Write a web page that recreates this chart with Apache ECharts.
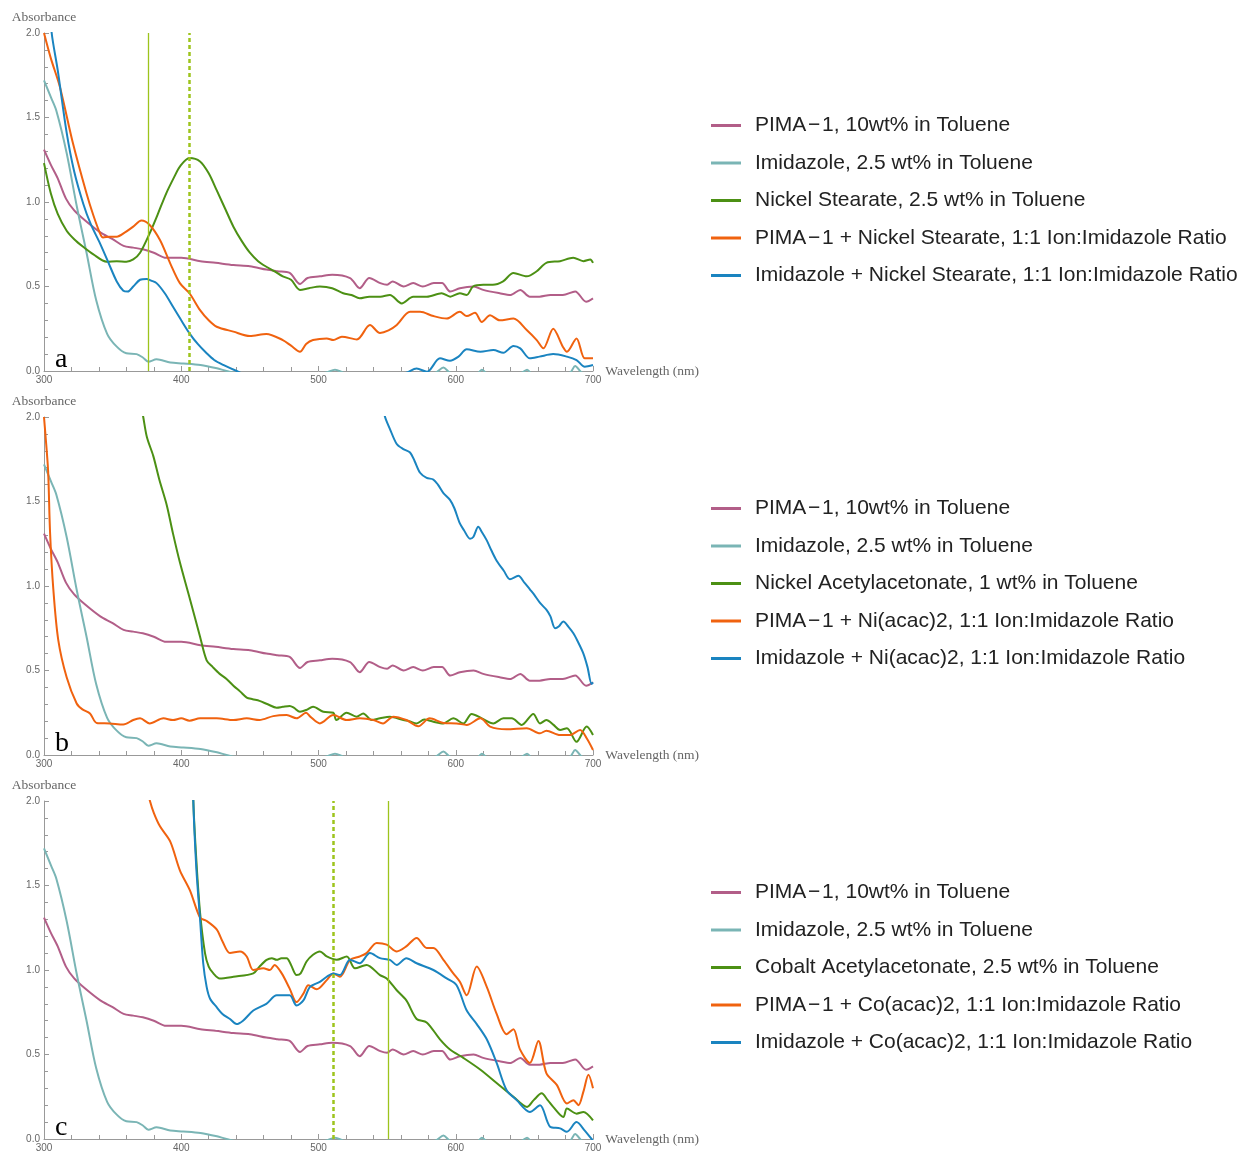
<!DOCTYPE html>
<html>
<head>
<meta charset="utf-8">
<script src="https://cdn.jsdelivr.net/npm/echarts@6/dist/echarts.min.js"></script>
<style>
html,body{margin:0;padding:0;background:#fff;}
#chart{width:1243px;height:1155px;}
</style>
</head>
<body>
<div id="chart"></div>
<script>
// ---- Shared reference spectra ----
const pimaX = [300,305,310,316,322,330,341,350,358,365,372,380,389,400,414,425,438,450,462,470,479,486.5,492,501,510,523,530,537,545,550,554,562,569,576,584,590,596,603,613,620,632,640,647,654,661,669,678,687,695,700];
const pimaY = [1.31,1.22,1.14,1.02,0.95,0.89,0.82,0.78,0.74,0.73,0.72,0.70,0.67,0.67,0.65,0.64,0.627,0.62,0.60,0.59,0.58,0.515,0.55,0.56,0.57,0.55,0.49,0.55,0.52,0.51,0.53,0.50,0.52,0.50,0.52,0.52,0.47,0.49,0.50,0.48,0.46,0.45,0.48,0.44,0.44,0.45,0.45,0.47,0.41,0.43];

const imidX = [300,305,309,316.5,324,331,338,346,353,360,367.5,372,376,382,392,401.5,414,426,433,445,470,505,512,518,525,560,585,591,596,615,619,624,648,652,656,683,687,692,700];
const imidY = [1.72,1.62,1.54,1.29,0.97,0.70,0.42,0.22,0.144,0.105,0.10,0.08,0.055,0.069,0.05,0.045,0.036,0.016,0.0,-0.02,-0.03,-0.01,0.008,-0.01,-0.03,-0.02,-0.01,0.02,-0.01,-0.02,0.008,-0.02,-0.01,0.008,-0.02,-0.01,0.03,-0.01,-0.02];

// ---- Panel a ----
const niStX = [300,305,310,316.5,322,328.5,336,345.7,353,360,365,370,377,383,389,395,399,406,413.7,420,425.8,432,438,444,450,456,462,468,474,480,486.5,493,501,510,518,524,530,537,545,552,560.6,569,579,589.7,596,603,608,612.6,620,627,634.5,642,651.7,659,666,676,685.6,693,698,700];
const niStY = [1.23,1.05,0.93,0.83,0.78,0.735,0.69,0.647,0.65,0.647,0.66,0.70,0.815,0.93,1.05,1.15,1.21,1.26,1.24,1.17,1.07,0.96,0.854,0.77,0.70,0.65,0.617,0.59,0.56,0.54,0.48,0.49,0.50,0.49,0.46,0.45,0.43,0.44,0.44,0.45,0.40,0.44,0.44,0.46,0.44,0.46,0.45,0.50,0.51,0.51,0.53,0.58,0.56,0.59,0.64,0.65,0.67,0.65,0.66,0.64];

const pimaNiStX = [300,305,311.6,321,331,336,340.8,343,348,353,359,365,371,377,384.5,391.8,399,406,413.7,420,425.8,438,450,462,474,480,486.5,491,496,506,510.8,517,528,537.5,544.8,551,557,566.7,574,583.7,593.4,603,608,614,619,625,632,642,651.7,659,663.8,671,678,681,688,694,700];
const pimaNiStY = [2.0,1.85,1.68,1.35,1.05,0.92,0.815,0.79,0.795,0.795,0.82,0.854,0.89,0.864,0.775,0.64,0.52,0.46,0.36,0.30,0.262,0.233,0.207,0.219,0.183,0.15,0.114,0.16,0.183,0.193,0.183,0.203,0.187,0.272,0.225,0.24,0.272,0.35,0.35,0.325,0.31,0.35,0.325,0.345,0.29,0.33,0.30,0.31,0.243,0.183,0.134,0.25,0.144,0.114,0.193,0.075,0.075];

const imidNiStX = [300,305.6,310,316.5,322,328.6,334,340.8,347,353,357.8,361,365,370,374.8,378,382,388,394,400,406,412,418.5,424,430.6,440.4,450,500,550,564,571.5,579,588.5,595.8,602,608,618,627.4,634.7,642,647,654,661,671,681,688,694,700];
const imidNiStY = [2.5,2.0,1.78,1.41,1.18,0.99,0.87,0.755,0.64,0.53,0.475,0.47,0.5,0.54,0.545,0.535,0.52,0.46,0.38,0.30,0.223,0.16,0.105,0.065,0.036,0.0,-0.03,-0.05,-0.04,-0.01,0.015,-0.005,0.075,0.061,0.085,0.128,0.114,0.124,0.108,0.148,0.134,0.075,0.085,0.10,0.085,0.065,0.025,0.035];

// ---- Panel b ----
const niAcX = [370,372.3,375,379.6,384,389.4,394,399,406.4,413.7,418.5,423,428,433,438,443,447.7,452,457,463,469.5,474,479,482,486.5,491,496,503.5,510.8,513,520.5,527.8,532.6,538.7,544.8,552,561.8,566,571.5,577,583.7,591,598.2,605.5,611.6,619,627.4,634.7,640.8,648,656.5,661.4,666,671,676,681,688,695.4,700];
const niAcY = [2.1,2.0,1.88,1.77,1.63,1.48,1.31,1.14,0.92,0.70,0.56,0.52,0.48,0.45,0.41,0.375,0.34,0.33,0.32,0.30,0.28,0.285,0.29,0.28,0.256,0.266,0.286,0.256,0.25,0.207,0.25,0.227,0.246,0.207,0.217,0.227,0.207,0.20,0.187,0.21,0.197,0.187,0.217,0.187,0.243,0.217,0.187,0.217,0.217,0.178,0.243,0.187,0.207,0.18,0.148,0.158,0.078,0.168,0.118];

const pimaNiAcX = [300,301,303,304.4,306.8,310.4,316.5,323.8,328,333.5,338.4,348,357.8,365,370,377,387,394,400,406,413.7,425.8,438,447.7,457,467,476.8,484,491,494,501,510.8,520.5,530,540,547,554.5,564,572.7,581,591,600.7,608,618,625,637,651.7,661.4,666,676,683,690.6,695.4,700];
const pimaNiAcY = [2.0,1.9,1.68,1.32,0.98,0.68,0.46,0.305,0.27,0.246,0.19,0.187,0.18,0.207,0.217,0.187,0.217,0.207,0.217,0.203,0.217,0.217,0.207,0.217,0.207,0.23,0.236,0.217,0.25,0.227,0.187,0.236,0.207,0.217,0.207,0.187,0.227,0.207,0.17,0.217,0.19,0.187,0.178,0.217,0.168,0.152,0.158,0.128,0.144,0.118,0.118,0.148,0.099,0.03];

const imidNiAcX = [546,548.5,552,557,561.8,566.7,570,574,578.8,583.7,587,591,595.8,599,603,606,610.4,612.8,616.4,619,622.6,626,629.8,635,639.5,645.6,650,654,657,661.4,666,669,672.4,675,678.4,682,685.7,689,693,696,699,700];
const imidNiAcY = [2.1,2.0,1.93,1.84,1.81,1.79,1.74,1.67,1.64,1.63,1.60,1.55,1.51,1.46,1.37,1.33,1.28,1.29,1.35,1.32,1.27,1.21,1.15,1.09,1.04,1.06,1.02,0.98,0.95,0.90,0.86,0.82,0.75,0.76,0.79,0.76,0.72,0.67,0.60,0.52,0.42,0.43];

// ---- Panel c ----
const coAcX = [408,408.8,411,413.7,417.3,420,423.4,428,438,452.5,457,462.2,466,469.5,473,476.8,480,484,487,491.3,496,501,506,513.3,520.6,526.6,535,544.8,549.7,557,564,571.5,578.8,588.5,595.8,605.5,618,630,642,652,656.8,662.6,667,671,678.4,681,688,693,700];
const coAcY = [2.4,2.0,1.65,1.34,1.10,1.02,0.98,0.95,0.96,0.98,1.02,1.06,1.07,1.06,1.07,1.07,1.03,0.97,0.98,1.05,1.09,1.11,1.08,1.06,1.08,1.01,1.03,0.97,0.95,0.88,0.82,0.71,0.69,0.59,0.53,0.48,0.41,0.33,0.25,0.19,0.23,0.27,0.23,0.19,0.13,0.18,0.15,0.16,0.11];

const pimaCoX = [376,377.2,380,384.5,392,399,406.4,413.7,418.5,425.8,430,435.5,442.8,447.7,452.5,459.8,464.6,468,473.2,479,484,489,492.6,498.7,506,510.8,515.6,523,530,535,542.4,549.7,557,564,571.5,578.8,583.7,591,598.2,603,608,615.3,622.6,629.8,637,642,646.8,654,660.2,666,673.6,681,685.7,689.4,693,696.7,700];
const pimaCoY = [2.05,2.0,1.93,1.85,1.76,1.59,1.47,1.31,1.29,1.24,1.17,1.10,1.11,1.08,1.0,1.01,1.0,1.03,0.98,0.89,0.81,0.86,0.91,0.886,0.94,0.98,0.96,1.06,1.08,1.10,1.16,1.15,1.11,1.14,1.19,1.13,1.13,1.06,0.98,0.93,0.85,1.02,0.90,0.74,0.62,0.65,0.53,0.45,0.58,0.39,0.32,0.21,0.23,0.20,0.28,0.38,0.30];

const imidCoX = [408,408.8,411,413.7,416,418.5,421,425.8,430,435.5,440.3,445,452.5,462,469.6,479,484,489,493.8,501,506,510.8,515.6,523,530,537.5,544.8,552,557,564,571.5,583.7,593.4,600.6,608,615.3,622.6,629.8,637,644.4,654,661.4,668.7,676,681,688,694,699,700];
const imidCoY = [2.4,2.0,1.60,1.30,1.04,0.90,0.83,0.78,0.74,0.71,0.68,0.70,0.76,0.80,0.85,0.85,0.79,0.82,0.90,0.93,0.96,0.98,0.97,1.06,1.04,1.10,1.07,1.06,1.03,1.07,1.04,1.0,0.95,0.91,0.76,0.68,0.59,0.45,0.29,0.23,0.16,0.20,0.073,0.063,0.043,0.10,0.05,0.0,-0.01];

// ---- Marker wavelengths (vertical guide lines) ----
const solidMarkA = [376];
const dashedMarkA = [406];
const dashedMarkC = [510.5];
const solidMarkC = [550.5];

// ---- Axis ticks / labels ----
const xTicks = [300, 400, 500, 600, 700];
const yTicks = [0.0, 0.5, 1.0, 1.5, 2.0];
const panelLetters = ['a', 'b', 'c'];

// ---- Legend names ----
const M = '\u200A\u2212\u200A';
const namesA = ['PIMA'+M+'1, 10wt% in Toluene','Imidazole, 2.5 wt% in Toluene','Nickel Stearate, 2.5 wt% in Toluene','PIMA'+M+'1 + Nickel Stearate, 1:1 Ion:Imidazole Ratio','Imidazole + Nickel Stearate, 1:1 Ion:Imidazole Ratio'];
const namesB = ['PIMA'+M+'1, 10wt% in Toluene','Imidazole, 2.5 wt% in Toluene','Nickel Acetylacetonate, 1 wt% in Toluene','PIMA'+M+'1 + Ni(acac)2, 1:1 Ion:Imidazole Ratio','Imidazole + Ni(acac)2, 1:1 Ion:Imidazole Ratio'];
const namesC = ['PIMA'+M+'1, 10wt% in Toluene','Imidazole, 2.5 wt% in Toluene','Cobalt Acetylacetonate, 2.5 wt% in Toluene','PIMA'+M+'1 + Co(acac)2, 1:1 Ion:Imidazole Ratio','Imidazole + Co(acac)2, 1:1 Ion:Imidazole Ratio'];

const colors = ['#b25e88','#7ab5b5','#4c9014','#f0620f','#1a84c0'];
const guideColor = '#9dc41c';

function zip(xs, ys){ return xs.map((x,i)=>[x, ys[i]]); }

const panels = [
  {names: namesA, data: [zip(pimaX,pimaY), zip(imidX,imidY), zip(niStX,niStY), zip(pimaNiStX,pimaNiStY), zip(imidNiStX,imidNiStY)], solid: solidMarkA, dashed: dashedMarkA},
  {names: namesB, data: [zip(pimaX,pimaY), zip(imidX,imidY), zip(niAcX,niAcY), zip(pimaNiAcX,pimaNiAcY), zip(imidNiAcX,imidNiAcY)], solid: [], dashed: []},
  {names: namesC, data: [zip(pimaX,pimaY), zip(imidX,imidY), zip(coAcX,coAcY), zip(pimaCoX,pimaCoY), zip(imidCoX,imidCoY)], solid: solidMarkC, dashed: dashedMarkC}
];

const gridTops = [33, 417, 801];
const gridH = 338;
const legendTops = [110, 493, 877];

const grids = [], xAxes = [], yAxes = [], series = [], legends = [], graphics = [];

panels.forEach((p, pi) => {
  grids.push({left: 44, top: gridTops[pi], width: 549, height: gridH, containLabel: false});
  xAxes.push({
    type: 'value', gridIndex: pi, min: xTicks[0], max: xTicks[xTicks.length-1], interval: 100,
    name: 'Wavelength (nm)', nameLocation: 'end', nameGap: 9,
    nameTextStyle: {fontFamily: 'Liberation Serif', fontSize: 13.5, color: '#666'},
    axisLine: {show: true, lineStyle: {color: '#999', width: 1}},
    axisTick: {show: true, inside: true, length: 5, lineStyle: {color: '#999'}},
    minorTick: {show: true, splitNumber: 5, length: 4, lineStyle: {color: '#999'}},
    splitLine: {show: false}, minorSplitLine: {show: false},
    axisLabel: {color: '#666', fontSize: 10, fontFamily: 'Liberation Sans', margin: 4}
  });
  yAxes.push({
    type: 'value', gridIndex: pi, min: yTicks[0], max: yTicks[yTicks.length-1], interval: 0.5,
    name: 'Absorbance', nameLocation: 'end', nameGap: 9,
    nameTextStyle: {fontFamily: 'Liberation Serif', fontSize: 13.5, color: '#666'},
    axisLine: {show: true, lineStyle: {color: '#999', width: 1}},
    axisTick: {show: true, inside: true, length: 5, lineStyle: {color: '#999'}},
    minorTick: {show: true, splitNumber: 5, length: 4, lineStyle: {color: '#999'}},
    splitLine: {show: false}, minorSplitLine: {show: false},
    axisLabel: {color: '#666', fontSize: 10, fontFamily: 'Liberation Sans', margin: 4, formatter: v => v.toFixed(1)}
  });
  p.data.forEach((d, si) => {
    const s = {
      type: 'line', name: p.names[si], xAxisIndex: pi, yAxisIndex: pi, data: d,
      showSymbol: false, symbol: 'none', smooth: 0.3, clip: true,
      lineStyle: {width: 2, color: colors[si]}, itemStyle: {color: colors[si]},
      z: 3
    };
    if (si === 0 && (p.solid.length || p.dashed.length)) {
      s.markLine = {
        silent: true, symbol: 'none', label: {show: false}, animation: false,
        data: [
          ...p.solid.map(v => ({xAxis: v, lineStyle: {color: guideColor, width: 1.3, type: 'solid'}})),
          ...p.dashed.map(v => ({xAxis: v, lineStyle: {color: guideColor, width: 2.5, type: [4, 3]}}))
        ]
      };
    }
    series.push(s);
  });
  legends.push({
    orient: 'vertical', left: 706, top: legendTops[pi], data: p.names,
    icon: 'rect', itemWidth: 30, itemHeight: 3, itemGap: 16.5,
    textStyle: {fontFamily: 'Liberation Sans', fontSize: 21, color: '#222', padding: [0, 0, 0, 9]},
    selectedMode: false
  });
  graphics.push({
    type: 'text', x: 55, y: gridTops[pi] + gridH + 3,
    style: {text: panelLetters[pi], font: '28px "Liberation Serif"', fill: '#000', textVerticalAlign: 'bottom'}
  });
});

const chart = echarts.init(document.getElementById('chart'), null, {renderer: 'canvas'});
chart.setOption({
  animation: false,
  backgroundColor: '#fff',
  grid: grids, xAxis: xAxes, yAxis: yAxes, series: series, legend: legends,
  graphic: graphics
});
</script>
</body>
</html>
